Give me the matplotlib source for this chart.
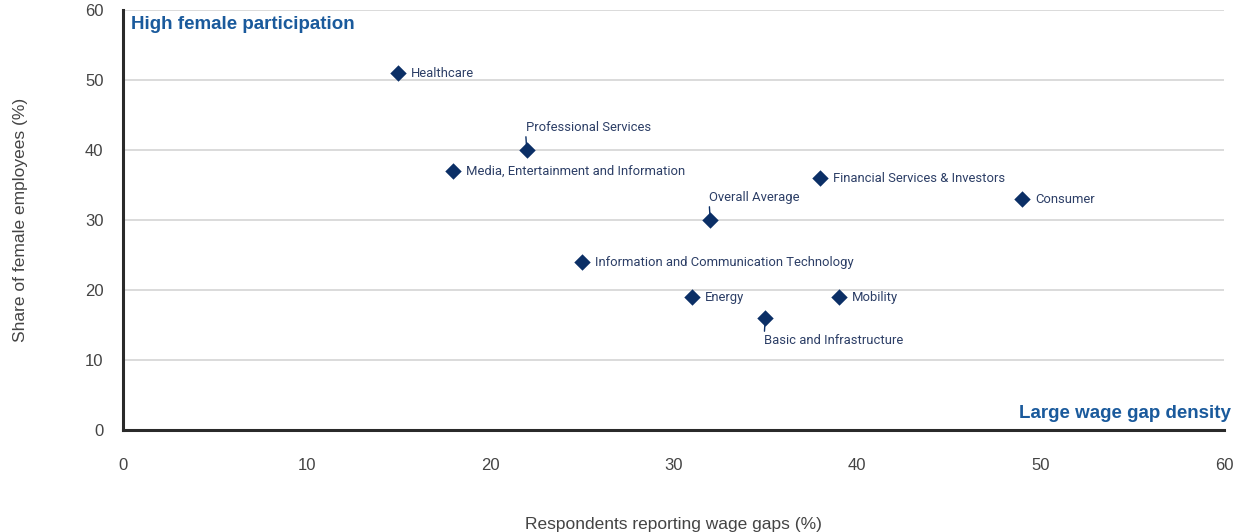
import matplotlib
matplotlib.use("Agg")
import matplotlib.pyplot as plt

# data
sectors = ["Healthcare", "Professional Services", "Media, Entertainment and Information",
           "Financial Services & Investors", "Consumer", "Overall Average",
           "Information and Communication Technology", "Energy", "Mobility",
           "Basic and Infrastructure"]
wage_gap = [15, 22, 18, 38, 49, 32, 25, 31, 39, 35]
female_share = [51, 40, 37, 36, 33, 30, 24, 19, 19, 16]
# where each label sits: right of marker, above (with leader) or below (with leader)
label_pos = ["right", "above", "right", "right", "right", "above", "right", "right", "right", "below"]

xticks = [0, 10, 20, 30, 40, 50, 60]
yticks = [0, 10, 20, 30, 40, 50, 60]

navy = "#0b2f66"
label_col = "#2c3e66"
blue = "#1a5a9c"
tick_col = "#444444"

plt.rcParams['font.family'] = ['Liberation Sans', 'DejaVu Sans']
narrow = ['Liberation Sans Narrow', 'Roboto', 'DejaVu Sans']

fig = plt.figure(figsize=(12.38, 5.32), dpi=100)
ax = fig.add_axes([0.0994, 0.1917, 0.8893, 0.7895])

ax.set_xlim(0, 60)
ax.set_ylim(0, 60)
ax.set_xticks(xticks)
ax.set_yticks(yticks)
ax.grid(axis='y', color='#d4d4d4', lw=1.2)
ax.set_axisbelow(True)
for s in ['top', 'right']:
    ax.spines[s].set_visible(False)
for s in ['left', 'bottom']:
    ax.spines[s].set_color('#2a2a2a')
    ax.spines[s].set_linewidth(2.2)
ax.tick_params(length=0, labelsize=12, labelcolor=tick_col)
ax.tick_params(axis='x', pad=20)
ax.tick_params(axis='y', pad=14)

ax.scatter(wage_gap, female_share, marker='D', s=70, color=navy, zorder=3, linewidths=0)

lab_size = 9.4
for name, x, y, pos in zip(sectors, wage_gap, female_share, label_pos):
    if pos == "right":
        ax.annotate(name, (x, y), xytext=(13, 0), textcoords='offset pixels',
                    ha='left', va='center', fontsize=lab_size, color=label_col, family=narrow)
    elif pos == "above":
        ax.annotate(name, (x, y), xytext=(-1, 16), textcoords='offset pixels',
                    ha='left', va='bottom', fontsize=lab_size, color=label_col, family=narrow,
                    arrowprops=dict(arrowstyle='-', color=navy, lw=1, shrinkA=0, shrinkB=0,
                                    relpos=(0, 0)))
    else:
        ax.annotate(name, (x, y), xytext=(-1, -16), textcoords='offset pixels',
                    ha='left', va='top', fontsize=lab_size, color=label_col, family=narrow,
                    arrowprops=dict(arrowstyle='-', color=navy, lw=1, shrinkA=0, shrinkB=0,
                                    relpos=(0, 1)))

ax.text(0.007, 0.965, "High female participation", transform=ax.transAxes,
        ha='left', va='center', fontsize=13.5, fontweight='bold', color=blue)
ax.text(1.006, 0.04, "Large wage gap density", transform=ax.transAxes,
        ha='right', va='center', fontsize=13.5, fontweight='bold', color=blue)

ax.set_xlabel("Respondents reporting wage gaps (%)", fontsize=12.5, color=tick_col, labelpad=32)
ax.set_ylabel("Share of female employees (%)", fontsize=12.5, color=tick_col, labelpad=41)

fig.savefig("out.png", dpi=100)
